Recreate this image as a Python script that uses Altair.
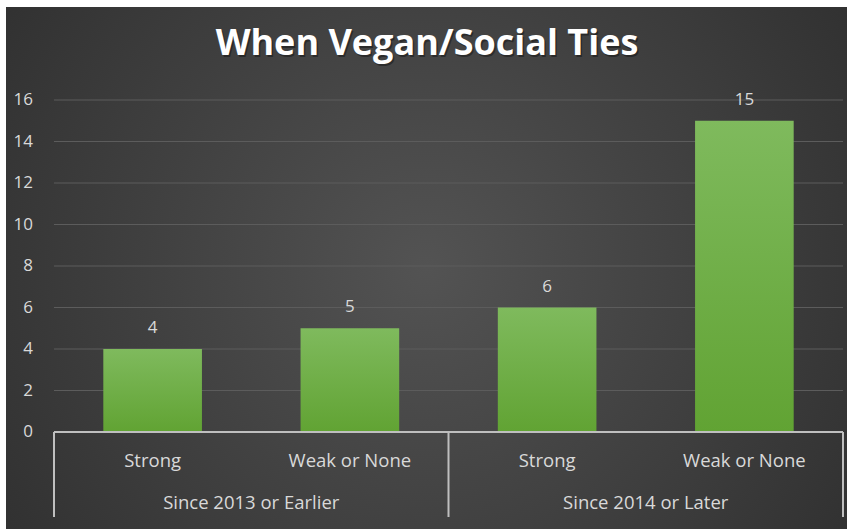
import altair as alt
import pandas as pd

title_text = "When Vegan/Social Ties"
groups = ["Since 2013 or Earlier", "Since 2013 or Earlier", "Since 2014 or Later", "Since 2014 or Later"]
ties = ["Strong", "Weak or None", "Strong", "Weak or None"]
counts = [4, 5, 6, 15]
y_ticks = [0, 2, 4, 6, 8, 10, 12, 14, 16]

W, H = 789, 332
PAD_L, PAD_T, PAD_R, PAD_B = 54, 100, 6, 97
FONT = "Open Sans"
LABEL = "#d9d9d9"
LINE = "#bfbfbf"
FS = 17
FS_CAT = 18.5

df = pd.DataFrame({"group": groups, "tie": ties, "count": counts})
df["key"] = df["group"] + " | " + df["tie"]
keys = list(df["key"])
unique_groups = list(dict.fromkeys(groups))

xscale = alt.Scale(domain=keys, paddingInner=0.5, paddingOuter=0.25)
yscale = alt.Scale(domain=[0, 16], nice=False)

one = pd.DataFrame({"a": [0]})

bg = alt.Chart(one).mark_rect(
    color=alt.Gradient(
        gradient="radial",
        stops=[alt.GradientStop(color="#535353", offset=0),
               alt.GradientStop(color="#2a2a2a", offset=1)],
        x1=0.5, y1=0.5, r1=0, x2=0.5, y2=0.5, r2=0.72,
    )
).encode(x=alt.value(-PAD_L + 6), x2=alt.value(W + PAD_R - 2),
         y=alt.value(-PAD_T + 7), y2=alt.value(H + PAD_B))

grid = alt.Chart(pd.DataFrame({"v": y_ticks[1:]})).mark_rule(
    color="#5c5c5c", strokeWidth=1
).encode(y=alt.Y("v:Q", scale=yscale, axis=None), x=alt.value(0), x2=alt.value(W))

ylabels = alt.Chart(pd.DataFrame({"v": y_ticks})).mark_text(
    align="right", baseline="middle", fontSize=FS, color=LABEL, font=FONT
).encode(y=alt.Y("v:Q", scale=yscale, axis=None), x=alt.value(-21), text="v:Q")

bars = alt.Chart(df).mark_bar(
    color=alt.Gradient(
        gradient="linear",
        stops=[alt.GradientStop(color="#7fba5d", offset=0),
               alt.GradientStop(color="#61a333", offset=1)],
        x1=0, x2=0, y1=0, y2=1,
    )
).encode(
    x=alt.X("key:N", scale=xscale, axis=None, sort=keys),
    y=alt.Y("count:Q", scale=yscale, axis=None),
)

vals = alt.Chart(df).mark_text(
    dy=-16, baseline="alphabetic", fontSize=FS, color=LABEL, font=FONT
).encode(
    x=alt.X("key:N", scale=xscale, axis=None, sort=keys),
    y=alt.Y("count:Q", scale=yscale, axis=None),
    text="count:Q",
)

base_line = alt.Chart(pd.DataFrame({"v": [0]})).mark_rule(
    color=LINE, strokeWidth=2
).encode(y=alt.Y("v:Q", scale=yscale, axis=None), x=alt.value(0), x2=alt.value(W))

vlines = [
    alt.Chart(one).mark_rule(color=LINE, strokeWidth=2).encode(
        x=alt.value(xp), y=alt.value(H), y2=alt.value(H + 85))
    for xp in [0, W / 2, W]
]

cat_labels = alt.Chart(df).mark_text(
    baseline="middle", fontSize=FS_CAT, color=LABEL, font=FONT
).encode(
    x=alt.X("key:N", scale=xscale, axis=None, sort=keys),
    y=alt.value(H + 29),
    text="tie:N",
)

grp_labels = alt.Chart(pd.DataFrame({"group": unique_groups})).mark_text(
    baseline="middle", fontSize=FS_CAT, color=LABEL, font=FONT
).encode(
    x=alt.X("group:N", scale=alt.Scale(domain=unique_groups, paddingInner=0, paddingOuter=0),
            axis=None, sort=unique_groups),
    y=alt.value(H + 71),
    text="group:N",
)

tdf = pd.DataFrame({"t": [title_text]})
title_shadow = alt.Chart(tdf).mark_text(
    fontSize=36, fontWeight="bold", font=FONT, color="#000000", opacity=0.35,
    baseline="middle", align="center", dx=1.5, dy=2
).encode(x=alt.value(427 - PAD_L), y=alt.value(44 - PAD_T), text="t:N")
title = alt.Chart(tdf).mark_text(
    fontSize=36, fontWeight="bold", font=FONT, color="#ffffff",
    baseline="middle", align="center"
).encode(x=alt.value(427 - PAD_L), y=alt.value(44 - PAD_T), text="t:N")

chart = alt.layer(
    bg, grid, ylabels, bars, vals, base_line, *vlines, cat_labels, grp_labels, title_shadow, title
).resolve_scale(x="independent").properties(
    width=W, height=H,
    padding={"left": PAD_L, "top": PAD_T, "right": PAD_R, "bottom": PAD_B},
    autosize=alt.AutoSizeParams(type="none"),
    background="white",
).configure_view(strokeWidth=0)

chart.save("out.html", embed_options={"renderer": "svg", "actions": False})
